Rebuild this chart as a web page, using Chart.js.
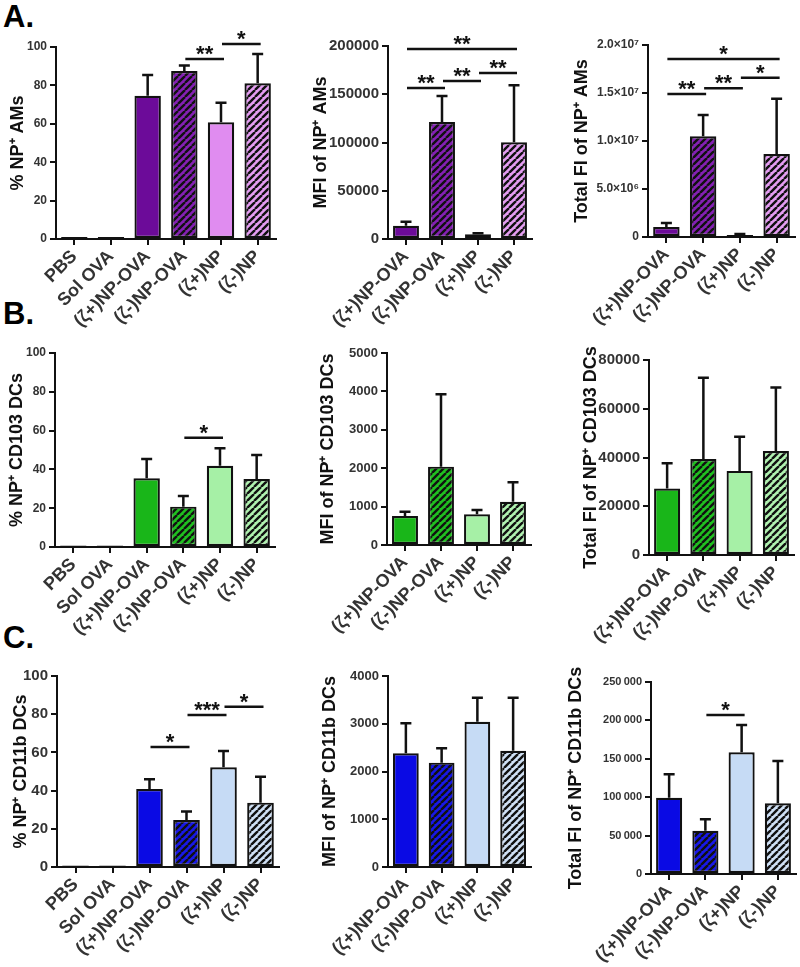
<!DOCTYPE html>
<html>
<head>
<meta charset="utf-8">
<script src="https://cdn.jsdelivr.net/npm/chart.js@4.4.1/dist/chart.umd.min.js"></script>
<style>
body { margin: 0; background: #fff; width: 800px; height: 967px; position: relative; overflow: hidden; font-family: "Liberation Sans", Arial, sans-serif; }
canvas { position: absolute; }
.lbl { position: absolute; left: 3px; font-weight: bold; font-size: 31px; line-height: 1; color: #000; }
</style>
</head>
<body>
<div class="lbl" style="top:1px">A.</div>
<div class="lbl" style="top:298px">B.</div>
<div class="lbl" style="top:622px">C.</div>

<script>
// categories
const cats6 = ['PBS', 'Sol OVA', '(ζ+)NP-OVA', '(ζ-)NP-OVA', '(ζ+)NP', '(ζ-)NP'];
const cats4 = ['(ζ+)NP-OVA', '(ζ-)NP-OVA', '(ζ+)NP', '(ζ-)NP'];

// A. alveolar macrophages
const amPctMean = [1.0, 1.0, 74.6, 87.5, 60.8, 81.1];
const amPctSd = [0, 0, 10.8, 2.8, 10.2, 15.3];
const amPctSig = [[3, 4, 93.7, '**'], [4, 5, 101.5, '*']];

const amMfiMean = [13800, 121200, 4900, 100200];
const amMfiSd = [4100, 26900, 1000, 59000];
const amMfiSig = [[0, 3, 196900, '**'], [0, 1, 156500, '**'], [1, 2, 163700, '**'], [2, 3, 172000, '**']];

const amTotMean = [1.04e6, 1.05e7, 0.22e6, 8.65e6];
const amTotSd = [0.42e6, 2.2e6, 0.1e6, 5.75e6];
const amTotSig = [[0, 3, 1.854e7, '*'], [0, 1, 1.49e7, '**'], [1, 2, 1.55e7, '**'], [2, 3, 1.66e7, '*']];
const amTotTicks = ['0', '5.0×10⁶', '1.0×10⁷', '1.5×10⁷', '2.0×10⁷'];

// B. CD103 DCs
const cd103PctMean = [0.8, 0.8, 35.4, 20.8, 41.9, 35.0];
const cd103PctSd = [0, 0, 10.0, 5.5, 9.0, 12.4];
const cd103PctSig = [[3, 4, 56.3, '*']];

const cd103MfiMean = [755, 2040, 800, 1128];
const cd103MfiSd = [113, 1884, 111, 505];

const cd103TotMean = [27300, 39400, 34500, 42650];
const cd103TotSd = [10300, 33300, 14000, 26100];

// C. CD11b DCs
const cd11bPctMean = [0.8, 0.8, 40.8, 24.6, 52.2, 33.7];
const cd11bPctSd = [0, 0, 5.2, 4.4, 8.5, 13.6];
const cd11bPctSig = [[2, 3, 62.8, '*'], [3, 4, 79.6, '***'], [4, 5, 83.9, '*']];

const cd11bMfiMean = [2380, 2185, 3043, 2436];
const cd11bMfiSd = [630, 300, 503, 1110];

const cd11bTotMean = [99300, 56400, 158400, 92000];
const cd11bTotSd = [30500, 14800, 35600, 55100];
const cd11bTotSig = [[1, 2, 207000, '*']];
const cd11bTotTicks = ['0', '50\u2009000', '100\u2009000', '150\u2009000', '200\u2009000', '250\u2009000'];

const FONT = '"Liberation Sans", Arial, sans-serif';
const INK = '#111';
const TITLE_SIZE = 18;

function hatch(base) {
  const s = 7;
  const c = document.createElement('canvas');
  c.width = s; c.height = s;
  const g = c.getContext('2d');
  g.fillStyle = base;
  g.fillRect(0, 0, s, s);
  g.strokeStyle = INK;
  g.lineWidth = 2.4;
  g.beginPath();
  for (const k of [-s, 0, s]) { g.moveTo(k, s); g.lineTo(k + s, 0); }
  g.stroke();
  return g.createPattern(c, 'repeat');
}

const purple = ['#6c0b99', hatch('#8420b4'), '#e08cf0', hatch('#e49cf2')];
const green = ['#19b619', hatch('#20c020'), '#a6f0a6', hatch('#b0f2b0')];
const blue = ['#0a0ae4', hatch('#1818e8'), '#c6dbf5', hatch('#cfe0f5')];

function extras(mean, sd, sig) {
  return {
    id: 'extras',
    afterDatasetsDraw(chart) {
      const ctx = chart.ctx, y = chart.scales.y;
      const bars = chart.getDatasetMeta(0).data;
      ctx.save();
      ctx.strokeStyle = INK;
      ctx.lineWidth = 2.5;
      sd.forEach((e, i) => {
        if (!e) return;
        const b = bars[i];
        const top = y.getPixelForValue(mean[i] + e);
        ctx.beginPath();
        ctx.moveTo(b.x, b.y);
        ctx.lineTo(b.x, top);
        ctx.moveTo(b.x - 5.5, top);
        ctx.lineTo(b.x + 5.5, top);
        ctx.stroke();
      });
      ctx.fillStyle = INK;
      ctx.font = 'bold 22px ' + FONT;
      ctx.textAlign = 'center';
      ctx.textBaseline = 'alphabetic';
      (sig || []).forEach(([a, b, v, t]) => {
        const x1 = bars[a].x + 1, x2 = bars[b].x + 3;
        const py = y.getPixelForValue(v);
        ctx.beginPath();
        ctx.moveTo(x1, py);
        ctx.lineTo(x2, py);
        ctx.stroke();
        ctx.fillText(t, (x1 + x2) / 2, py + 2);
      });
      ctx.restore();
    }
  };
}

function panel(p) {
  const padTop = 34, padRight = 20;
  const x0 = Math.round(p.titleX - 4 - TITLE_SIZE * 0.6);
  const yw = p.cl - x0;
  const y0 = p.ct - padTop;
  const cv = document.createElement('canvas');
  cv.width = p.cr - x0 + padRight;
  cv.height = p.cb - y0 + p.xh;
  cv.style.left = x0 + 'px';
  cv.style.top = y0 + 'px';
  document.body.appendChild(cv);

  const fills = p.labels.length === 6 ? [INK, INK].concat(p.colors) : p.colors;
  new Chart(cv, {
    type: 'bar',
    data: {
      labels: p.labels,
      datasets: [{
        data: p.mean,
        backgroundColor: fills,
        borderColor: INK,
        borderWidth: 2.2,
        borderSkipped: false,
        barPercentage: 0.72,
        categoryPercentage: 1
      }]
    },
    options: {
      responsive: false,
      animation: false,
      layout: { padding: { top: padTop, right: padRight, left: 0, bottom: 0 } },
      plugins: { legend: { display: false }, tooltip: { enabled: false } },
      scales: {
        x: {
          grid: { drawOnChartArea: false, offset: false, color: INK, lineWidth: 2, tickLength: 6 },
          border: { color: INK, width: 2 },
          ticks: {
            autoSkip: false, minRotation: 45, maxRotation: 45, padding: 1,
            color: '#333', font: { family: FONT, size: p.xFont || 18, weight: 'bold' }
          },
          afterFit(s) { s.height = p.xh; }
        },
        y: {
          min: 0, max: p.max,
          grid: { drawOnChartArea: false, color: INK, lineWidth: 2, tickLength: 6 },
          border: { color: INK, width: 2 },
          ticks: {
            stepSize: p.step, padding: 3, color: '#333',
            font: { family: FONT, size: p.tFont || 13, weight: 'bold' },
            callback: (v, i) => p.ticks ? p.ticks[i] : String(v)
          },
          title: {
            display: true, text: p.title, color: INK, padding: { top: 4, bottom: 4 },
            font: { family: FONT, size: TITLE_SIZE, weight: 'bold' }
          },
          afterFit(s) { s.width = yw; }
        }
      }
    },
    plugins: [extras(p.mean, p.sd, p.sig)]
  });
}

panel({ labels: cats6, mean: amPctMean, sd: amPctSd, sig: amPctSig, colors: purple,
  max: 100, step: 20, title: '% NP⁺ AMs', cl: 56, cr: 276, ct: 47, cb: 239, titleX: 18, xh: 100, tFont: 12 });
panel({ labels: cats4, mean: amMfiMean, sd: amMfiSd, sig: amMfiSig, colors: purple,
  max: 200000, step: 50000, title: 'MFI of NP⁺ AMs', cl: 388, cr: 532, ct: 46, cb: 239, titleX: 321, xh: 100, tFont: 15 });
panel({ labels: cats4, mean: amTotMean, sd: amTotSd, sig: amTotSig, colors: purple, ticks: amTotTicks,
  max: 2e7, step: 5e6, title: 'Total FI of NP⁺ AMs', cl: 648, cr: 795, ct: 45, cb: 237, titleX: 582, xh: 100, tFont: 12 });

panel({ labels: cats6, mean: cd103PctMean, sd: cd103PctSd, sig: cd103PctSig, colors: green,
  max: 100, step: 20, title: '% NP⁺ CD103 DCs', cl: 55, cr: 275, ct: 353, cb: 547, titleX: 17, xh: 100, tFont: 12 });
panel({ labels: cats4, mean: cd103MfiMean, sd: cd103MfiSd, colors: green,
  max: 5000, step: 1000, title: 'MFI of NP⁺ CD103 DCs', cl: 387, cr: 531, ct: 353, cb: 545, titleX: 328, xh: 100 });
panel({ labels: cats4, mean: cd103TotMean, sd: cd103TotSd, colors: green,
  max: 80000, step: 20000, title: 'Total FI of NP⁺ CD103 DCs', cl: 649, cr: 794, ct: 360, cb: 555, titleX: 591, xh: 100, tFont: 15 });

panel({ labels: cats6, mean: cd11bPctMean, sd: cd11bPctSd, sig: cd11bPctSig, colors: blue,
  max: 100, step: 20, title: '% NP⁺ CD11b DCs', cl: 57, cr: 279, ct: 676, cb: 867, titleX: 21, xh: 100, tFont: 15 });
panel({ labels: cats4, mean: cd11bMfiMean, sd: cd11bMfiSd, colors: blue,
  max: 4000, step: 1000, title: 'MFI of NP⁺ CD11b DCs', cl: 388, cr: 531, ct: 676, cb: 867, titleX: 330, xh: 100 });
panel({ labels: cats4, mean: cd11bTotMean, sd: cd11bTotSd, sig: cd11bTotSig, colors: blue, ticks: cd11bTotTicks,
  max: 250000, step: 50000, title: 'Total FI of NP⁺ CD11b DCs', cl: 651, cr: 796, ct: 682, cb: 874, titleX: 576, xh: 93, tFont: 11 });
</script>
</body>
</html>
